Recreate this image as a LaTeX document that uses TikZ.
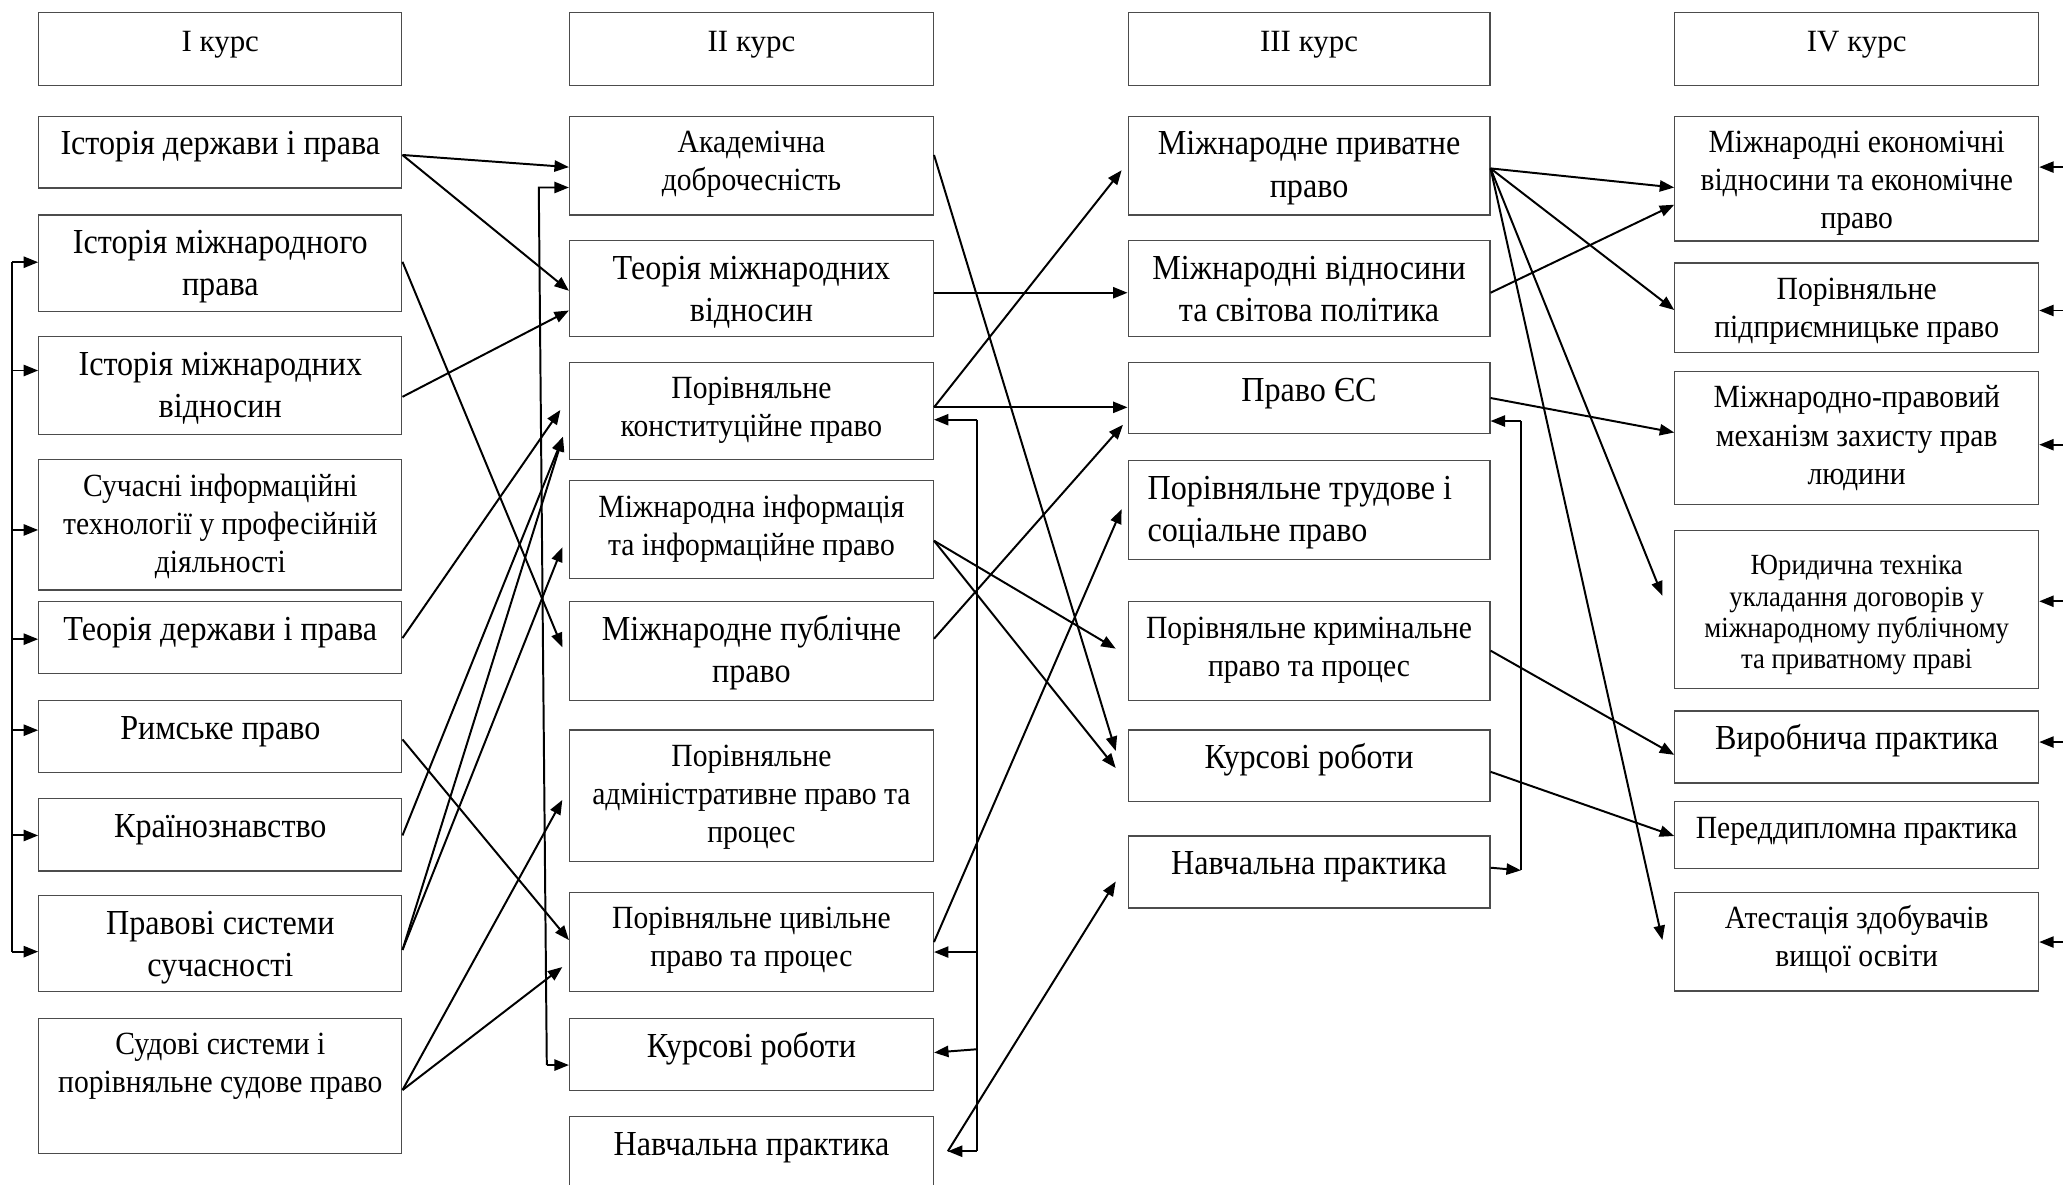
\documentclass[tikz,border=0pt]{standalone}
\usepackage{fontspec}
\setmainfont{Liberation Serif}
\newfontfamily\bodyfont[FakeStretch=0.915]{Liberation Serif}
\usetikzlibrary{arrows.meta,calc}
\tikzset{
  boxst/.style={draw=black!70, line width=0.9pt, rectangle, inner sep=0pt},
  txt/.style={inner sep=0pt, anchor=base},
  headf/.style={font=\fontsize{23.5}{30}\selectfont},
  bigf/.style={font=\bodyfont\fontsize{26.7}{32}\selectfont},
  smallf/.style={font=\bodyfont\fontsize{24.6}{29}\selectfont},
  tinyf/.style={font=\bodyfont\fontsize{22.2}{23.7}\selectfont},
  conn/.style={line width=1.5pt, -{Triangle[length=11pt,width=8.5pt]}},
  plainln/.style={line width=1.5pt},
}
\newcommand\bx[8]{%
  \node[boxst, anchor=north west, minimum width={#4-#2}, minimum height={#5-#3}] (#1) at (#2,#3) {};
  \node[txt, #6] (#1t) at ($(#1.north)+(0,#7)$) {\begin{tabular}[t]{@{}c@{}}#8\end{tabular}};
}
\begin{document}
\begin{tikzpicture}[x=1pt,y=-1pt]
\useasboundingbox (0,0) rectangle (1568,900);
% column 1
\bx{h1}{29}{9.3}{305}{64.6}{headf}{30}{I курс}
\bx{c1a}{29}{87.8}{305}{142.5}{bigf}{30}{Історія держави і права}
\bx{c1b}{29}{162.9}{305}{236.2}{bigf}{30}{Історія міжнародного\\права}
\bx{c1c}{29}{255.4}{305}{329.6}{bigf}{30}{Історія міжнародних\\відносин}
\bx{c1d}{29}{349}{305}{448}{smallf}{28}{Сучасні інформаційні\\технології у професійній\\діяльності}
\bx{c1e}{29}{457}{305}{511.7}{bigf}{30}{Теорія держави і права}
\bx{c1f}{29}{531.9}{305}{586.6}{bigf}{30}{Римське право}
\bx{c1g}{29}{606.7}{305}{661.5}{bigf}{30}{Країнознавство}
\bx{c1h}{29}{680.3}{305}{753}{bigf}{30}{Правові системи\\сучасності}
\bx{c1i}{29}{773.7}{305}{876}{smallf}{28}{Судові системи і\\порівняльне судове право}
% column 2
\bx{h2}{432.4}{9.3}{709}{64.6}{headf}{30}{II курс}
\bx{c2a}{432.4}{87.8}{709}{162.9}{smallf}{28}{Академічна\\доброчесність}
\bx{c2b}{432.4}{182.6}{709}{255.4}{bigf}{30}{Теорія міжнародних\\відносин}
\bx{c2c}{432.4}{274.9}{709}{349}{smallf}{28}{Порівняльне\\конституційне право}
\bx{c2d}{432.4}{365}{709}{439.2}{smallf}{28}{Міжнародна інформація\\та інформаційне право}
\bx{c2e}{432.4}{457}{709}{531.9}{bigf}{30}{Міжнародне публічне\\право}
\bx{c2f}{432.4}{554.4}{709}{654.6}{smallf}{28}{Порівняльне\\адміністративне право та\\процес}
\bx{c2g}{432.4}{677.9}{709}{753}{smallf}{28}{Порівняльне цивільне\\право та процес}
\bx{c2h}{432.4}{773.7}{709}{828.4}{bigf}{30}{Курсові роботи}
\bx{c2i}{432.4}{848}{709}{930}{bigf}{30}{Навчальна практика}
% column 3
\bx{h3}{857}{9.3}{1132}{64.6}{headf}{30}{III курс}
\bx{c3a}{857}{87.8}{1132}{162.9}{bigf}{30}{Міжнародне приватне\\право}
\bx{c3b}{857}{182.6}{1132}{255.4}{bigf}{30}{Міжнародні відносини\\та світова політика}
\bx{c3c}{857}{274.9}{1132}{329.3}{bigf}{30}{Право ЄС}
\node[boxst, anchor=north west, minimum width=275, minimum height=75.1] (c3d) at (857,349.6) {};
\node[txt, bigf, anchor=base west] (c3dt) at ($(c3d.north west)+(15,30)$) {\begin{tabular}[t]{@{}l@{}}Порівняльне трудове і\\соціальне право\end{tabular}};
\bx{c3e}{857}{457}{1132}{531.9}{smallf}{28}{Порівняльне кримінальне\\право та процес}
\bx{c3f}{857}{554.4}{1132}{609}{bigf}{30}{Курсові роботи}
\bx{c3g}{857}{635}{1132}{689.7}{bigf}{30}{Навчальна практика}
% column 4
\bx{h4}{1272.5}{9.3}{1549}{64.6}{headf}{30}{IV курс}
\bx{c4a}{1272.5}{87.8}{1549}{182.7}{smallf}{28}{Міжнародні економічні\\відносини та економічне\\право}
\bx{c4b}{1272.5}{199.5}{1549}{267.6}{smallf}{28}{Порівняльне\\підприємницьке право}
\bx{c4c}{1272.5}{282}{1549}{383}{smallf}{28}{Міжнародно-правовий\\механізм захисту прав\\людини}
\bx{c4d}{1272.5}{402.9}{1549}{522.7}{tinyf}{34}{Юридична техніка\\укладання договорів у\\міжнародному публічному\\та приватному праві}
\bx{c4e}{1272.5}{540}{1549}{594.7}{bigf}{30}{Виробнича практика}
\bx{c4f}{1272.5}{609}{1549}{659.5}{smallf}{28}{Переддипломна практика}
\bx{c4g}{1272.5}{677.6}{1549}{752.7}{smallf}{28}{Атестація здобувачів\\вищої освіти}

% column 1 -> column 2
\draw[conn] (c1a.east |- 0,117.8) -- (c2a.west |- 0,127);
\draw[conn] (c1a.east |- 0,117.8) -- (c2b.west |- 0,221);
\draw[conn] (c1b.east |- 0,199) -- ($(c2e.west |- 0,492)+(-5,0)$);
\draw[conn] (c1c.east |- 0,301.6) -- (c2b.west |- 0,236);
\draw[conn] (c1e.east |- 0,485) -- ($(c2c.west |- 0,311.6)+(-6.5,0)$);
\draw[conn] (c1g.east |- 0,635) -- ($(c2c.west |- 0,332)+(-4.5,0)$);
\draw[conn] (c1h.east |- 0,722) -- ($(c2c.west |- 0,332)+(-4.5,0)$);
\draw[conn] (c1h.east |- 0,722) -- ($(c2d.west |- 0,416)+(-5,0)$);
\draw[conn] (c1f.east |- 0,562) -- (c2g.west |- 0,714.5);
\draw[conn] (c1i.east |- 0,828.5) -- ($(c2f.west |- 0,608)+(-5,0)$);
\draw[conn] (c1i.east |- 0,828.5) -- ($(c2g.west |- 0,735)+(-5,0)$);

% left bracket
\coordinate (lbt) at (9,199.3);
\coordinate (lbb) at (9,723.3);
\draw[plainln] (lbt) -- (lbb);
\foreach \n/\y in {c1b/199.3, c1c/281.6, c1d/402.8, c1e/485.8, c1f/555, c1g/635, c1h/723.3}
  \draw[conn] (lbt |- 0,\y) -- (\n.west |- 0,\y);

% column 2 left bracket
\coordinate (lb2t) at (409.5,142.5);
\coordinate (lb2b) at (415.6,809.5);
\draw[conn] (lb2b) -- (lb2t) -- (c2a.west |- lb2t);
\draw[conn] (lb2b) -- (c2h.west |- lb2b);

% column 2 -> column 3
\draw[conn] (c2a.east |- 0,117.8) -- ($(c3f.west |- 0,570.8)+(-9,0)$);
\draw[conn] (c2b.east |- 0,222.5) -- (c3b.west |- 0,222.5);
\draw[conn] (c2c.east |- 0,309.6) -- ($(c3a.west |- 0,129.4)+(-4.5,0)$);
\draw[conn] (c2c.east |- 0,309.6) -- (c3c.west |- 0,309.6);
\draw[conn] (c2d.east |- 0,411) -- ($(c3e.west |- 0,493)+(-9,0)$);
\draw[conn] (c2d.east |- 0,411) -- ($(c3f.west |- 0,583.7)+(-9,0)$);
\draw[conn] (c2e.east |- 0,485.5) -- ($(c3c.west |- 0,322.9)+(-3.5,0)$);
\draw[conn] (c2g.east |- 0,716) -- ($(c3d.west |- 0,387)+(-4.5,0)$);
\coordinate (np2) at ($(c2i.east |- 0,875)+(10.5,0)$);
\draw[conn] (np2) -- ($(c3g.west |- 0,670)+(-9,0)$);

% column 2 right bracket
\coordinate (rb2t) at (742.3,319);
\coordinate (rb2b) at (742.3,875);
\draw[plainln] (rb2t) -- (rb2b);
\draw[conn] (rb2t) -- (c2c.east |- rb2t);
\draw[conn] (rb2t |- 0,723.6) -- (c2g.east |- 0,723.6);
\draw[conn] (rb2t |- 0,797.5) -- (c2h.east |- 0,800);
\draw[conn] (rb2b) -- (np2);

% column 3 right bracket
\coordinate (rb3t) at (1156,320);
\coordinate (rb3b) at (1156,661.5);
\draw[plainln] (rb3b) -- (rb3t);
\draw[conn] (rb3t) -- (c3c.east |- rb3t);
\draw[conn] (c3g.east |- 0,659.5) -- (rb3b);

% column 3 -> column 4
\draw[conn] (c3a.east |- 0,128) -- (c4a.west |- 0,142.5);
\draw[conn] (c3a.east |- 0,128) -- (c4b.west |- 0,235.6);
\draw[conn] (c3a.east |- 0,128) -- ($(c4d.west |- 0,452.8)+(-9,0)$);
\draw[conn] (c3a.east |- 0,128) -- ($(c4g.west |- 0,714.5)+(-9,0)$);
\draw[conn] (c3b.east |- 0,222.5) -- (c4a.west |- 0,155.6);
\draw[conn] (c3c.east |- 0,302.5) -- (c4c.west |- 0,328.7);
\draw[conn] (c3e.east |- 0,494.5) -- (c4e.west |- 0,573.7);
\draw[conn] (c3f.east |- 0,586.6) -- (c4f.west |- 0,635.4);

% arrows entering from the right edge
\foreach \n/\y in {c4a/127, c4b/236, c4c/338, c4d/457, c4e/564, c4g/716}{
  \coordinate (re\n) at (1570,\y);
  \draw[conn] (re\n) -- (\n.east |- re\n);
}
\end{tikzpicture}
\end{document}
